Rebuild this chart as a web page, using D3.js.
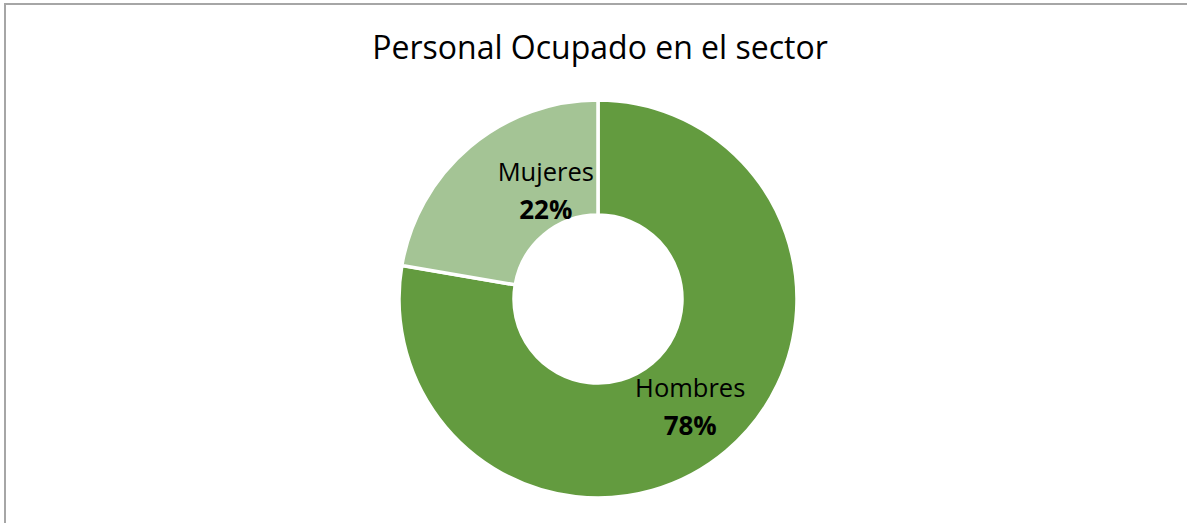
<!DOCTYPE html>
<html>
<head>
<meta charset="utf-8">
<script src="https://cdn.jsdelivr.net/npm/d3@7"></script>
<style>
  html, body { margin: 0; padding: 0; background: #fff; }
  svg { display: block; }
  text { font-family: "Open Sans", Lato, sans-serif; fill: #000; }
</style>
</head>
<body>
<svg id="chart" width="1187" height="523"></svg>
<script>
// ---- data ----
const title = "Personal Ocupado en el sector";
const categories = ["Hombres", "Mujeres"];
const values = [77.7, 22.3];
const colors = ["#639b3f", "#a4c495"];

// ---- layout ----
const W = 1187, H = 523;
const cx = 598, cy = 299;
const outerR = 199, innerR = 84;

const svg = d3.select("#chart");

// chart area border (right/bottom edges lie outside the picture)
svg.append("rect")
  .attr("x", 5).attr("y", 4)
  .attr("width", W + 20).attr("height", H + 20)
  .attr("fill", "#fff")
  .attr("stroke", "#a6a6a6")
  .attr("stroke-width", 2);

svg.append("text")
  .attr("x", 600).attr("y", 59)
  .attr("text-anchor", "middle")
  .style("font-size", "32px")
  .text(title);

const data = categories.map((c, i) => ({ name: c, value: values[i], color: colors[i] }));

const pie = d3.pie().value(d => d.value).sort(null);
const arc = d3.arc().innerRadius(innerR).outerRadius(outerR);
const arcs = pie(data);

const g = svg.append("g").attr("transform", `translate(${cx},${cy})`);

g.selectAll("path.slice")
  .data(arcs)
  .enter().append("path")
  .attr("class", "slice")
  .attr("d", arc)
  .attr("fill", d => d.data.color)
  .attr("stroke", "#fff")
  .attr("stroke-width", 3.5)
  .attr("stroke-linejoin", "miter");

const total = d3.sum(values);
const fmt = d3.format(".0%");
// horizontal nudge so small-slice labels sit inside the slice (as in the original)
const nudge = d => (d.endAngle - d.startAngle) < Math.PI / 2 ? 38 : 0;

const labels = g.selectAll("text.lbl")
  .data(arcs)
  .enter().append("text")
  .attr("class", "lbl")
  .attr("text-anchor", "middle")
  .attr("transform", d => {
    const [x, y] = arc.centroid(d);
    return `translate(${x + nudge(d) + 1},${y})`;
  });

labels.append("tspan")
  .attr("x", 0).attr("y", -10)
  .style("font-size", "25.5px")
  .text(d => d.data.name);

labels.append("tspan")
  .attr("x", 0).attr("y", 28)
  .style("font-size", "26px")
  .style("font-weight", "bold")
  .text(d => fmt(d.data.value / total));
</script>
</body>
</html>
